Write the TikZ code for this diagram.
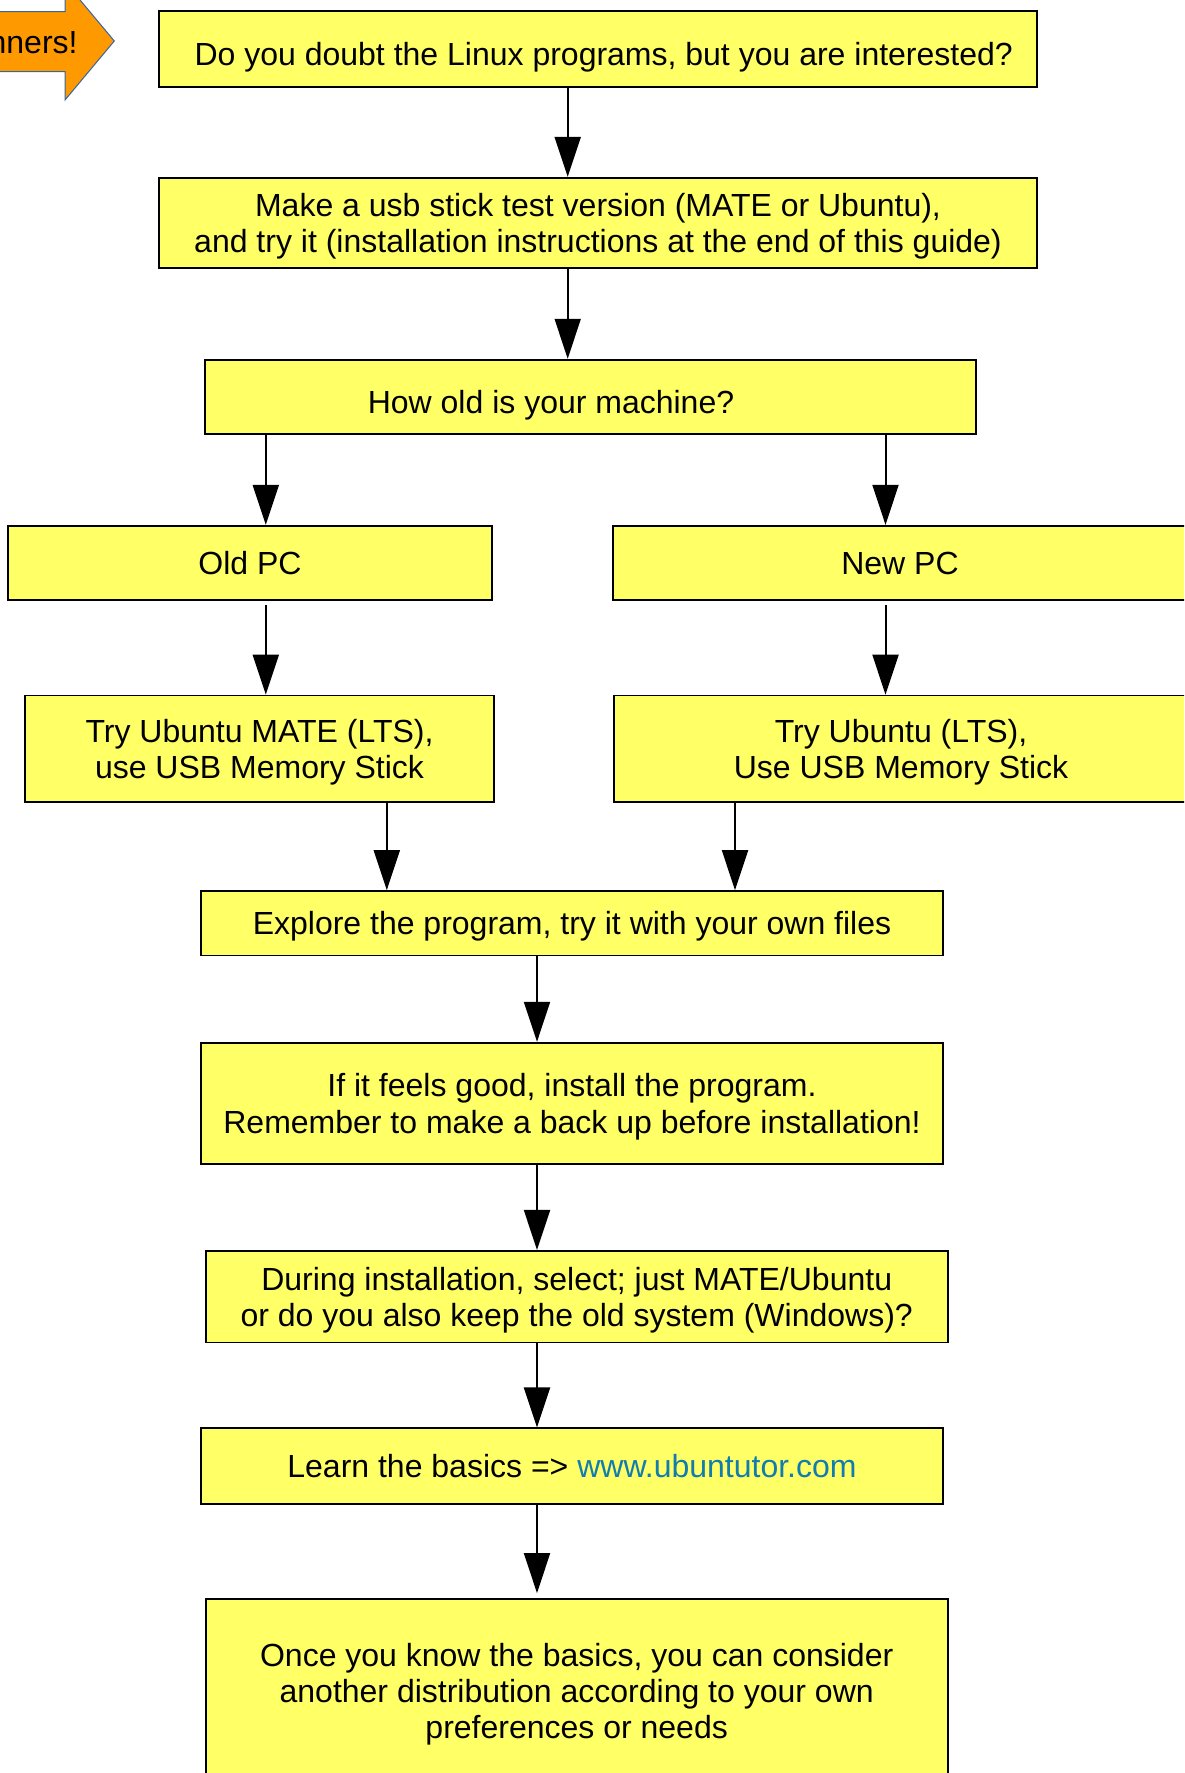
\documentclass[tikz,border=0pt]{standalone}
\usepackage{fontspec}
\setmainfont{Liberation Sans}
\usepackage{xcolor}
\usepackage{tikz}
\usetikzlibrary{arrows.meta}

\definecolor{boxyellow}{RGB}{255,255,102}
\definecolor{startorange}{RGB}{255,153,0}
\definecolor{edgeblue}{RGB}{52,101,164}
\definecolor{linkblue}{RGB}{16,124,176}

% line metrics of the box font
\newcommand{\linestrut}{\rule[-3.4pt]{0pt}{17.9pt}}
\newcommand{\headstrut}{\rule{0pt}{15.1pt}}
\newcommand{\lowstrut}{\rule{0pt}{19.5pt}}

\tikzset{
    stepbox/.style={draw, line width=0.9pt, fill=boxyellow, align=center, inner sep=2pt,
        font=\fontsize{16}{18.1}\selectfont,
        execute at begin node=\linestrut, execute at end node=\linestrut},
    flow/.style={-{Triangle[length=20pt,width=13pt]}, line width=1pt},
}

\begin{document}
\begin{tikzpicture}[x=0.5pt, y=-0.5pt]
    \useasboundingbox (0,0) rectangle (1184,1773);
    \clip (0,0) rectangle (1184,1773);

    % start arrow
    \filldraw[fill=startorange, draw=edgeblue, line width=0.5pt] (-20,11.7) -- (65,11.7) -- (65,-18) -- (114.3,41) -- (65,100) -- (65,71.7) -- (-20,71.7) -- cycle;
    \node[anchor=base east, inner sep=0pt, font=\fontsize{16}{18.1}\selectfont] (start) at (78,53) {nners!};

    % boxes
    \node[stepbox, minimum width=438.75pt, minimum height=37.85pt] (doubt) at (598,49) {\lowstrut\hspace*{5.7pt}Do you doubt the Linux programs, but you are interested?};
    \node[stepbox, minimum width=438.75pt, minimum height=45.25pt] (usb) at (598,223) {\headstrut Make a usb stick test version (MATE or Ubuntu),\\and try it (installation instructions at the end of this guide)};
    \node[stepbox, minimum width=385.6pt, minimum height=37.35pt] (age) at (590.4,397) {\lowstrut\hspace*{-39.4pt}How old is your machine?};
    \node[stepbox, minimum width=242pt, minimum height=37.25pt] (old) at (250,563) {Old PC};
    \node[stepbox, minimum width=287pt, minimum height=37.25pt] (new) at (900,563) {New PC};
    \node[stepbox, minimum width=234.65pt, minimum height=53.15pt] (mate) at (259.5,748.7) {\headstrut Try Ubuntu MATE (LTS),\\use USB Memory Stick};
    \node[stepbox, minimum width=287pt, minimum height=53.15pt] (ubuntu) at (901,748.7) {\headstrut Try Ubuntu (LTS),\\Use USB Memory Stick};
    \node[stepbox, minimum width=370.85pt, minimum height=32.25pt] (explore) at (572,923.3) {Explore the program, try it with your own files};
    \node[stepbox, minimum width=370.85pt, minimum height=60.5pt] (install) at (572,1103.2) {\headstrut If it feels good, install the program.\\Remember to make a back up before installation!};
    \node[stepbox, minimum width=370.95pt, minimum height=45.8pt] (during) at (576.7,1296.6) {\headstrut During installation, select; just MATE/Ubuntu\\or do you also keep the old system (Windows)?};
    \node[stepbox, minimum width=370.85pt, minimum height=37.85pt] (learn) at (572,1466.2) {Learn the basics => \textcolor{linkblue}{www.ubuntutor.com}};
    \node[stepbox, minimum width=370.95pt, minimum height=91.5pt] (once) at (576.7,1690.5) {\headstrut Once you know the basics, you can consider\\another distribution according to your own\\preferences or needs};

    % connectors
    \draw[flow] (doubt.south -| 567.7,0) -- (usb.north -| 567.7,0);
    \draw[flow] (usb.south -| 567.7,0) -- (age.north -| 567.7,0);
    \draw[flow] (age.south -| 265.8,0) -- (old.north -| 265.8,0);
    \draw[flow] (age.south -| 885.5,0) -- (new.north -| 885.5,0);
    \draw[flow, shorten <=2pt] (old.south -| 265.8,0) -- (mate.north -| 265.8,0);
    \draw[flow, shorten <=2pt] (new.south -| 885.5,0) -- (ubuntu.north -| 885.5,0);
    \draw[flow] (mate.south -| 386.8,0) -- (explore.north -| 386.8,0);
    \draw[flow] (ubuntu.south -| 735,0) -- (explore.north -| 735,0);
    \draw[flow] (explore.south -| 537,0) -- (install.north -| 537,0);
    \draw[flow] (install.south -| 537,0) -- (during.north -| 537,0);
    \draw[flow] (during.south -| 537,0) -- (learn.north -| 537,0);
    \draw[flow, shorten >=2.5pt] (learn.south -| 537,0) -- (once.north -| 537,0);
\end{tikzpicture}
\end{document}
